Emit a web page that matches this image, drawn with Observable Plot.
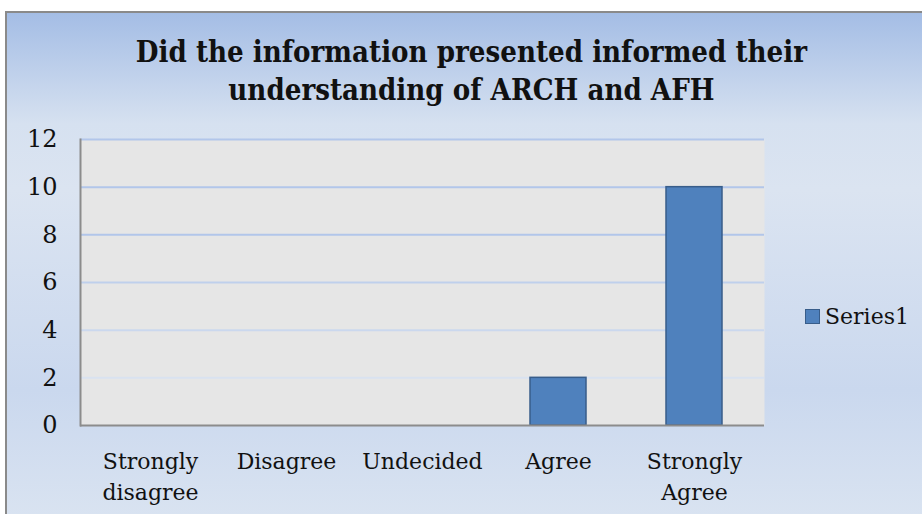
<!DOCTYPE html>
<html><head><meta charset="utf-8">
<script src="https://cdn.jsdelivr.net/npm/d3@7"></script>
<script src="https://cdn.jsdelivr.net/npm/@observablehq/plot@0.6"></script>
<style>
body{margin:0;background:#fff;}
#wrap{position:absolute;left:5px;top:11px;width:917px;height:503px;border-left:2px solid #8a8a8a;border-top:2px solid #8a8a8a;
background:linear-gradient(180deg,#a4bde5 0%,#d6e1f0 22%,#dbe4f1 35%,#cad8ee 75%,#d9e3f1 100%);overflow:hidden;}
#title{position:absolute;left:0;top:0;width:922px;height:126px;text-align:center;font-family:"DejaVu Serif",serif;font-weight:bold;font-size:30px;line-height:38px;color:#111;padding-top:33px;box-sizing:border-box;padding-left:20px;}
#title span{display:inline-block;transform:scaleX(0.873);transform-origin:50% 50%;}
#chart{position:absolute;left:0;top:0;}
#legend{position:absolute;left:805px;top:304px;font-family:"DejaVu Serif",serif;font-size:22px;color:#111;display:flex;align-items:center;}
#legend span.sw{display:inline-block;width:13px;height:13px;background:#4f81bd;border:1.5px solid #385d8a;margin-right:5px;}
</style></head>
<body>
<div id="root" style="position:relative;width:922px;height:514px;">
<div id="wrap"></div>
<div id="title"><span>Did the information presented informed their<br>understanding of ARCH and AFH</span></div>
<div id="chart"></div>
<div id="legend"><span class="sw"></span>Series1</div>
</div>
<script>
const categories = ["Strongly\ndisagree","Disagree","Undecided","Agree","Strongly\nAgree"];
const values = [0,0,0,2,10];
const yTicks = [0,2,4,6,8,10,12];
const seriesName = "Series1";

const data = categories.map((c,i)=>({category:c, value:values[i], series:seriesName}));
const font = '"DejaVu Serif",serif';
const gridColor = v => v <= 2 ? "#d9e2f0" : v <= 4 ? "#cbd8ee" : v <= 6 ? "#bfd0ec" : "#b2c6ea";

const chart = Plot.plot({
  width: 922,
  height: 514,
  marginLeft: 80,
  marginRight: 158,
  marginTop: 139,
  marginBottom: 89,
  style: {background:"transparent", fontFamily: font, fontSize: "22px", color:"#111", overflow:"visible"},
  x: {domain: categories, paddingInner: 0.585, paddingOuter: 0.2925, label: null},
  y: {domain: [0,12], ticks: yTicks, label: null},
  marks: [
    Plot.frame({fill:"#e6e6e6", stroke:null}),
    Plot.gridY(yTicks.filter(d=>d>0), {stroke: gridColor, strokeOpacity:1, strokeWidth:2}),
    Plot.frame({anchor:"left", stroke:"#8c8c8c", strokeWidth:2}),
    Plot.barY(data, {x:"category", y:"value", fill:"#4f81bd", stroke:"#385d8a", strokeWidth:1.5}),
    Plot.ruleY([0], {stroke:"#8c8c8c", strokeWidth:2}),
    Plot.axisY({ticks: yTicks, tickSize:0, tickPadding:23, fontSize:24, fill:"#111"}),
    Plot.axisX({tickSize:0, tickPadding:22, fontSize:22, lineHeight:1.4, fill:"#111"})
  ]
});
document.getElementById("chart").append(chart);
</script>
</body></html>
